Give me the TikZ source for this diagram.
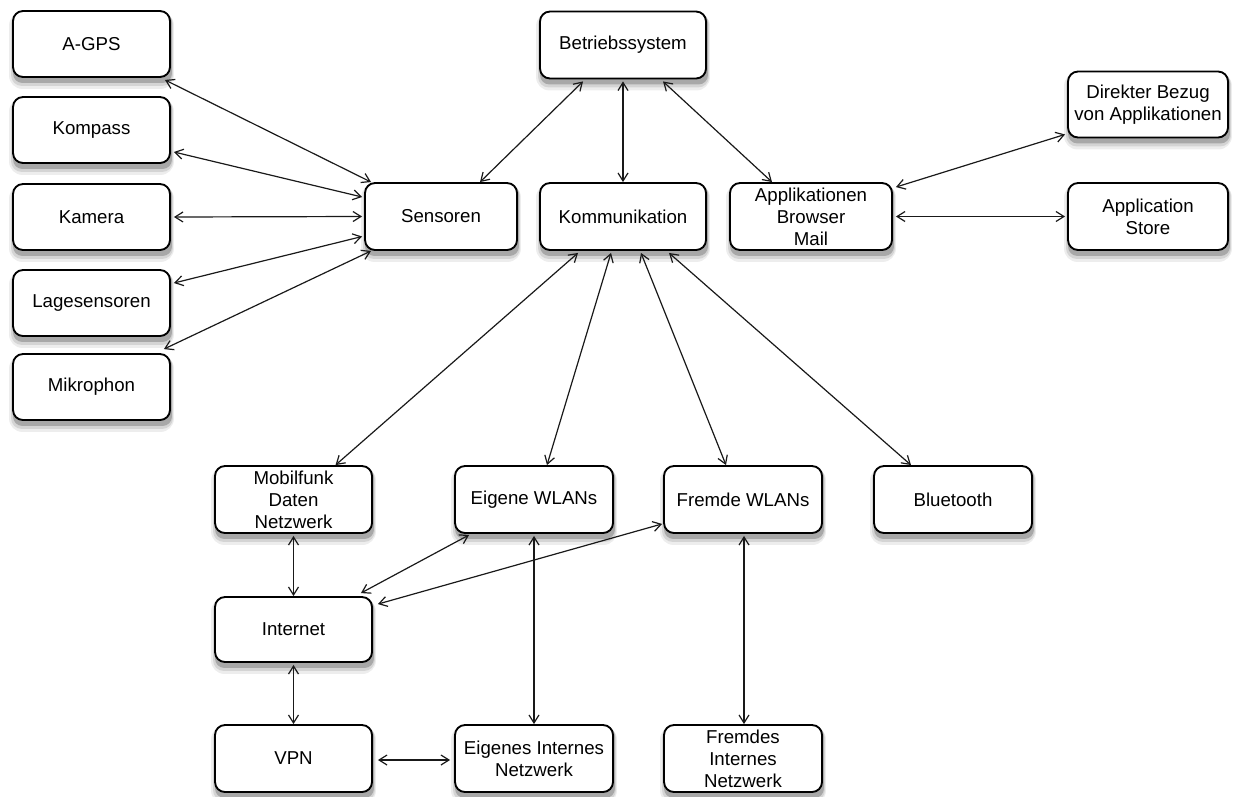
\documentclass[tikz,border=0pt]{standalone}
\usepackage{fontspec}
\setmainfont{Liberation Sans}
\usetikzlibrary{arrows.meta,calc,backgrounds}
\begin{document}
\begin{tikzpicture}[x=0.75pt,y=-0.75pt,
  box/.style={draw=black, line width=1.4pt, rounded corners=7.5pt, fill=white,
    minimum width=117.75pt, minimum height=49.5pt, inner sep=0pt, align=center,
    font=\fontsize{14}{16.5}\selectfont},
  shade1/.style={fill=black!7, rounded corners=10pt},
  shade2/.style={fill=black!17, rounded corners=8pt},
  shade3/.style={fill=black!34, rounded corners=7pt},
  link/.style={draw=black!90, line width=0.9pt, {Straight Barb[length=6pt,width=7.5pt]}-{Straight Barb[length=6pt,width=7.5pt]}}]
\useasboundingbox (0,0) rectangle (1234,796);
% left column
\node[box] (agps)  at (91.5,44)  {A-GPS};
\node[box] (komp)  at (91.5,130) {Kompass};
\node[box] (kam)   at (91.5,217) {Kamera};
\node[box] (lage)  at (91.5,303) {Lagesensoren};
\node[box] (mikro) at (91.5,387) {Mikrophon};
% top middle
\node[box, minimum width=124.5pt, minimum height=50.25pt] (betr) at (623,45) {Betriebssystem};
\node[box, minimum width=114pt, minimum height=50.25pt] (sens) at (441,216.5) {Sensoren};
\node[box, minimum width=124.5pt, minimum height=50.25pt] (komm) at (623,216.5) {Kommunikation};
\node[box, minimum width=121.5pt, minimum height=50.25pt] (appl) at (811,216.5) {Applikationen\\Browser\\Mail};
% right
\node[box, minimum width=120pt] (direkt) at (1148,104.5) {Direkter Bezug\\von Applikationen};
\node[box, minimum width=120pt, minimum height=50.25pt] (store) at (1148,216.5) {Application\\Store};
% bottom
\node[box, minimum height=50.25pt] (mobil)  at (293.5,499.5) {Mobilfunk\\Daten\\Netzwerk};
\node[box, minimum width=118.5pt, minimum height=50.25pt] (eigwl)  at (534,499.5) {Eigene WLANs};
\node[box, minimum width=118.5pt, minimum height=50.25pt] (fremwl) at (743,499.5) {Fremde WLANs};
\node[box, minimum width=118.5pt, minimum height=50.25pt] (blue)   at (953,499.5) {Bluetooth};
\node[box, minimum height=48.75pt] (inet) at (293.5,629.5) {Internet};
\node[box, minimum height=50.25pt] (vpn)  at (293.5,758.5) {VPN};
\node[box, minimum width=118.5pt, minimum height=50.25pt] (eigin)  at (534,758.5) {Eigenes Internes\\Netzwerk};
\node[box, minimum width=118.5pt, minimum height=50.25pt] (fremin) at (743,758.5) {Fremdes\\Internes\\Netzwerk};
% shadows
\begin{scope}[on background layer]
\foreach \n in {agps,komp,kam,lage,mikro,betr,sens,komm,appl,direkt,store,mobil,eigwl,fremwl,blue,inet,vpn,eigin,fremin}{
  \fill[shade1] ($(\n.south west)+(-3,11)$) rectangle ($(\n.north east)+(3,2)$);
  \fill[shade2] ($(\n.south west)+(-1,8)$) rectangle ($(\n.north east)+(2,3)$);
  \fill[shade3] ($(\n.south west)+(1,5)$) rectangle ($(\n.north east)+(1,3)$);
}
\end{scope}
% sensors
\draw[link] ($(agps.south east)+(-6,2)$) -- ($(sens.north west)+(7,0)$);
\draw[link] ($(komp.east)+(3,22)$) -- ($(sens.west)+(-2,-19.5)$);
\draw[link] ($(kam.east)+(3,0)$) -- ($(sens.west)+(-2,0)$);
\draw[link] ($(lage.east)+(3,-20)$) -- ($(sens.west)+(-2,20)$);
\draw[link] ($(mikro.north east)+(-7,-4)$) -- ($(sens.south west)+(7,0)$);
% os
\draw[link] ($(betr.south)+(-40,2)$) -- ($(sens.north)+(39,0)$);
\draw[link] ($(betr.south)+(0,2)$) -- (komm.north);
\draw[link] ($(betr.south)+(40,2)$) -- ($(appl.north)+(-39,0)$);
% apps
\draw[link] ($(appl.north east)+(3,5)$) -- ($(direkt.south west)+(-2,-4)$);
\draw[link] ($(appl.east)+(3,0)$) -- ($(store.west)+(-2,0)$);
% communication
\draw[link] ($(komm.south)+(-45,2)$) -- ($(mobil.north)+(42,0)$);
\draw[link] ($(komm.south)+(-12,2)$) -- ($(eigwl.north)+(13,0)$);
\draw[link] ($(komm.south)+(18,2)$) -- ($(fremwl.north)+(-17,0)$);
\draw[link] ($(komm.south)+(46,2)$) -- ($(blue.north)+(-42,0)$);
% network
\draw[link] ($(mobil.south)+(0,2)$) -- (inet.north);
\draw[link] ($(inet.south)+(0,2)$) -- (vpn.north);
\draw[link] ($(vpn.east)+(5,1.5)$) -- ($(eigin.west)+(-4,1.5)$);
\draw[link] ($(eigwl.south)+(0,2)$) -- (eigin.north);
\draw[link] ($(inet.north east)+(-12,-3)$) -- ($(eigwl.south west)+(15,1)$);
\draw[link] ($(inet.north east)+(5,8)$) -- ($(fremwl.south west)+(-1,-10)$);
\draw[link] ($(fremwl.south)+(1,2)$) -- ($(fremin.north)+(1,0)$);
\end{tikzpicture}
\end{document}
